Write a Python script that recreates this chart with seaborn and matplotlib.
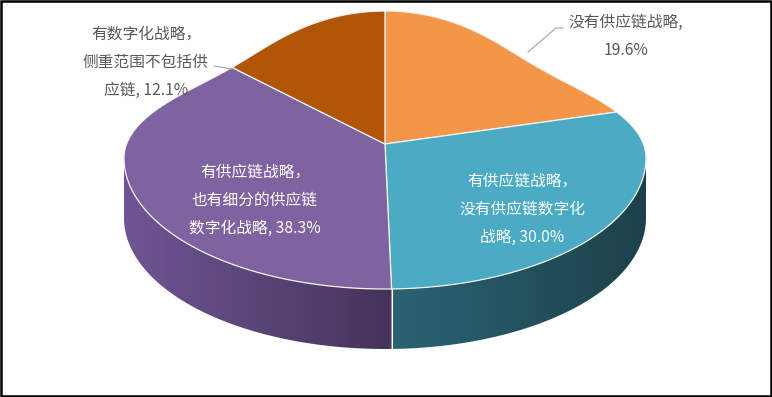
import numpy as np
import matplotlib
matplotlib.use("Agg")
import matplotlib.pyplot as plt
from matplotlib.colors import to_rgb
from matplotlib.patches import Polygon, Rectangle
import seaborn as sns

# data, clockwise from 12 o'clock
labels = ["没有供应链战略,\n19.6%",
          "有供应链战略，\n没有供应链数字化\n战略, 30.0%",
          "有供应链战略，\n也有细分的供应链\n数字化战略, 38.3%",
          "有数字化战略，\n侧重范围不包括供\n应链, 12.1%"]
shares = [19.6, 30.0, 38.3, 12.1]

top_colors = ["#F49648", "#4BABC5", "#7F62A0", "#B05606"]
wall_light = ["#B06A30", "#2A6373", "#6E5694", "#7E3E04"]
wall_dark = ["#7A4820", "#1D414B", "#45335A", "#5A2C03"]
label_colors = ["#595959", "white", "white", "#595959"]

sns.set_theme(style="white")
plt.rcParams["font.family"] = ["Noto Sans CJK SC", "DejaVu Sans"]

fig = plt.figure(figsize=(7.72, 3.97), dpi=100)
ax = fig.add_axes([0, 0, 1, 1])
ax.set_xlim(0, 772)
ax.set_ylim(397, 0)
ax.axis("off")

# view of the 3-D pie (pixels)
cx, cy = 385, 144          # where the slices meet
rim_cy = 158               # middle of the rim outline
a = 261
b_far, b_near = 147, 131
pinch = 0.15               # far half is drawn a bit pointed
depth = 60


def rim(t):
    u, v = np.cos(t), np.sin(t)
    f = np.where(v > 0, 1 - pinch * np.sin(2 * t) ** 2, 1.0)
    bb = np.where(v > 0, b_far, b_near)
    return cx + a * u * f, rim_cy - bb * v * f


frac = np.cumsum([0] + shares) / sum(shares)
ang = np.deg2rad(90 - 360 * frac)

# front part of the rim (between leftmost and rightmost points)
tt = np.linspace(0.5, -np.pi - 0.5, 4000)
rx, _ = rim(tt)
t_right, t_left = tt[np.argmax(rx)], tt[np.argmin(rx)]

# side walls with a left-to-right shading
for k in range(len(shares)):
    lo = max(min(ang[k], ang[k + 1]), t_left)
    hi = min(max(ang[k], ang[k + 1]), t_right)
    if hi <= lo:
        continue
    t = np.linspace(hi, lo, 300)
    x, y = rim(t)
    pts = np.column_stack([np.r_[x, x[::-1]], np.r_[y, y[::-1] + depth]])
    poly = Polygon(pts, closed=True, facecolor="none", edgecolor="none")
    ax.add_patch(poly)
    c0, c1 = np.array(to_rgb(wall_light[k])), np.array(to_rgb(wall_dark[k]))
    w = np.linspace(0, 1, 128)[None, :, None]
    grad = c0 * (1 - w) + c1 * w
    im = ax.imshow(grad, extent=[x.min(), x.max(), y.max() + depth, y.min()],
                   aspect="auto", zorder=1, interpolation="bilinear")
    im.set_clip_path(poly)

# white seams between walls
for t0 in ang[1:-1]:
    if t_left < t0 < t_right:
        x, y = rim(np.array([t0]))
        ax.plot([x[0], x[0]], [y[0], y[0] + depth], color="white", lw=0.8, zorder=2)

# top face
for k in range(len(shares)):
    t = np.linspace(ang[k], ang[k + 1], 300)
    x, y = rim(t)
    pts = np.column_stack([np.r_[cx, x], np.r_[cy, y]])
    ax.add_patch(Polygon(pts, closed=True, facecolor=top_colors[k],
                         edgecolor="#F2F2F2", linewidth=0.9, zorder=3))

# labels
label_pos = [(626, 36), (522, 209), (255, 200), (146, 62)]
for k in range(len(shares)):
    ax.text(*label_pos[k], labels[k], ha="center", va="center",
            multialignment="center", fontsize=11.3, linespacing=1.85,
            color=label_colors[k], zorder=5)

# leader lines for the outside labels
ax.plot([563, 556, 528], [28, 28, 52], color="#A6A6A6", lw=0.8, zorder=4)
ax.plot([214, 232], [66, 69], color="#A6A6A6", lw=0.8, zorder=4)

# chart border
fig.patches.append(Rectangle((0.0015, 0.003), 0.997, 0.994, transform=fig.transFigure,
                             fill=False, edgecolor="black", linewidth=1.8))

fig.savefig("out.png", dpi=100)
